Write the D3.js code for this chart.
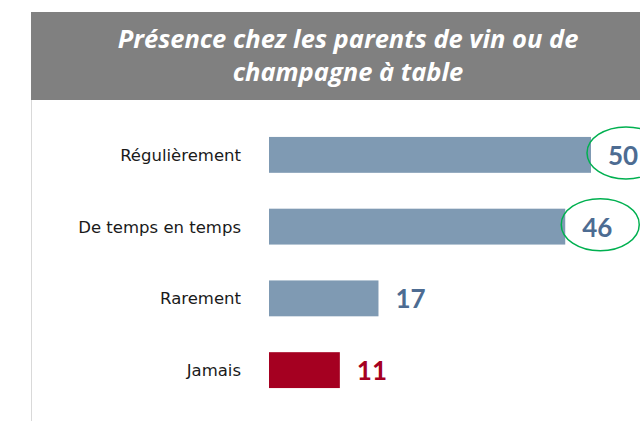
<!DOCTYPE html>
<html><head><meta charset="utf-8">
<script src="https://cdn.jsdelivr.net/npm/d3@7"></script>
<style>body{margin:0;background:#fff}svg{display:block}</style>
</head><body>
<script>
const categories = ["Régulièrement", "De temps en temps", "Rarement", "Jamais"];
const values = [50, 46, 17, 11];
const barColors = ["#7F9AB3", "#7F9AB3", "#7F9AB3", "#A50021"];
const labelColors = ["#4D6C92", "#4D6C92", "#4D6C92", "#A50021"];
const highlighted = [true, true, false, false];
const titleLines = ["Présence chez les parents de vin ou de", "champagne à table"];

const W = 640, H = 421;
const svg = d3.select("body").append("svg").attr("width", W).attr("height", H);

// title box
svg.append("rect").attr("x", 31).attr("y", 12).attr("width", W - 31).attr("height", 88).attr("fill", "#808080");
svg.append("line").attr("x1", 31.5).attr("x2", 31.5).attr("y1", 100).attr("y2", H).attr("stroke", "#D9D9D9");
svg.selectAll("text.title").data(titleLines).enter().append("text")
  .attr("x", 348).attr("y", (d, i) => 48 + i * 33)
  .attr("text-anchor", "middle").attr("fill", "#fff")
  .style("font-family", "'Open Sans', sans-serif").style("font-weight", "bold").style("font-style", "italic")
  .style("font-size", "25.5px").text(d => d);

const x = d3.scaleLinear().domain([0, 50]).range([269, 591]);
const y = d3.scaleBand().domain(categories).range([119, 406]).paddingInner(0.5).paddingOuter(0.25);

svg.selectAll("rect.bar").data(values).enter().append("rect")
  .attr("x", x(0)).attr("y", (d, i) => y(categories[i]))
  .attr("width", d => x(d) - x(0)).attr("height", y.bandwidth())
  .attr("fill", (d, i) => barColors[i]);

svg.selectAll("text.cat").data(categories).enter().append("text")
  .attr("x", 241).attr("y", d => y(d) + y.bandwidth() / 2 + 6)
  .attr("text-anchor", "end").attr("fill", "#1a1a1a")
  .style("font-family", "'DejaVu Sans', sans-serif").style("font-size", "16.5px").text(d => d);

svg.selectAll("text.val").data(values).enter().append("text")
  .attr("x", d => x(d) + 17).attr("y", (d, i) => y(categories[i]) + y.bandwidth() / 2 + 10)
  .attr("fill", (d, i) => labelColors[i])
  .style("font-family", "Lato, sans-serif").style("font-weight", "bold")
  .style("font-size", "26px").text(d => d);

svg.selectAll("ellipse.hl").data(values.filter((d, i) => highlighted[i])).enter().append("ellipse")
  .attr("cx", d => x(d) + 35).attr("cy", (d, i) => y(categories[i]) + y.bandwidth() / 2 - 2)
  .attr("rx", 39).attr("ry", 26)
  .attr("fill", "none").attr("stroke", "#00B050").attr("stroke-width", 1.5);
</script>
</body></html>
